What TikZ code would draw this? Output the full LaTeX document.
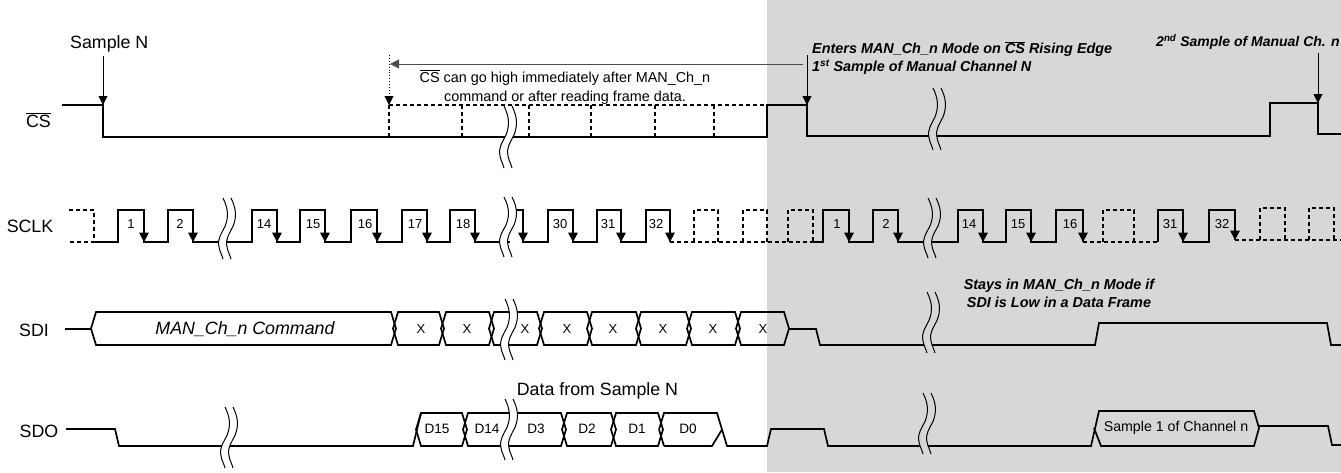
\documentclass[tikz,border=0pt]{standalone}
\usepackage{fontspec}
\setmainfont{Liberation Sans}
\usetikzlibrary{arrows.meta}
\definecolor{bggray}{HTML}{D7D7D7}
\tikzset{
  sig/.style={line width=1.7pt,line join=miter,black},
  dsig/.style={line width=1.5pt,black,dash pattern=on 4pt off 3pt},
  thinarrow/.style={line width=0.9pt,black,-{Triangle[width=9pt,length=9pt]}},
  lbl/.style={inner sep=0pt,font=\fontsize{17.8}{20}\selectfont},
  num/.style={inner sep=0pt,font=\fontsize{13}{15}\selectfont},
  small/.style={inner sep=0pt,font=\fontsize{13.6}{15}\selectfont},
  sampletext/.style={inner sep=0pt,font=\fontsize{14.2}{15}\selectfont},
  note/.style={inner sep=0pt,align=center,font=\fontsize{14.4}{19}\selectfont},
  bnote/.style={inner sep=0pt,font=\fontsize{14.4}{18}\selectfont\bfseries\itshape},
}
\newcommand{\wavybreak}[4]{%
  \pgfmathsetmacro{\bscale}{(#4-#3)/60}
  \begin{scope}[shift={(#2,#3)},yscale=\bscale]
    \fill[#1] (0,0) .. controls (5,10) and (6,18) .. (2,28) .. controls (-1,34) and (-6,40) .. (-4,48) .. controls (-3.5,52) and (-1,56) .. (0,60)
      -- (8,60) .. controls (7,56) and (4.5,52) .. (4,48) .. controls (2,40) and (7,34) .. (10,28) .. controls (14,18) and (13,10) .. (8,0) -- cycle;
    \draw[line width=1pt] (0,0) .. controls (5,10) and (6,18) .. (2,28) .. controls (-1,34) and (-6,40) .. (-4,48) .. controls (-3.5,52) and (-1,56) .. (0,60);
    \draw[line width=1pt] (8,0) .. controls (13,10) and (14,18) .. (10,28) .. controls (7,34) and (2,40) .. (4,48) .. controls (4.5,52) and (7,56) .. (8,60);
  \end{scope}}
\newcommand{\hexbox}[4]{%
  \draw[sig] ({#1-5},{(#3+#4)/2}) -- (#1,#3) -- (#2,#3) -- ({#2+5},{(#3+#4)/2}) -- (#2,#4) -- (#1,#4) -- cycle;}
\newcommand{\ovl}[1]{$\overline{\mbox{#1}}$}
\begin{document}
\begin{tikzpicture}[x=1pt,y=-1pt]
\clip (0,0) rectangle (1341,472);
\fill[bggray] (767,0) rectangle (1341,472);

% CS
\draw[dsig] (389,105) -- (775,105);
\foreach \x in {389,462,529,591,655,714} \draw[dsig] (\x,105) -- (\x,137);
\draw[sig] (62,105) -- (103,105) -- (103,137) -- (767,137) -- (767,105) -- (807,105) -- (807,136) -- (1270,136) -- (1270,103) -- (1318,103) -- (1318,134) -- (1341,134);

% SCLK
\draw[dsig] (69,210) -- (94,210) -- (94,242) -- (69,242);
\draw[sig] (94,242) -- (118,242) -- (118,210) -- (144,210) -- (144,242) -- (168,242) -- (168,210) -- (193,210) -- (193,242) -- (252,242) -- (252,210) -- (277,210) -- (277,242) -- (300,242) -- (300,210) -- (325,210) -- (325,242) -- (351,242) -- (351,210) -- (377,210) -- (377,242) -- (402,242) -- (402,210) -- (427,210) -- (427,242) -- (450,242) -- (450,210) -- (475,210) -- (475,242) -- (510,242);
\draw[sig] (510,210) -- (523,210) -- (523,242) -- (548,242) -- (548,210) -- (573,210) -- (573,242) -- (597,242) -- (597,210) -- (621,210) -- (621,242) -- (646,242) -- (646,210) -- (670,210) -- (670,242);
\draw[dsig] (670,242) -- (813,242);
\draw[dsig] (694,242) -- (694,210) -- (718,210) -- (718,242);
\draw[dsig] (743,242) -- (743,210) -- (767,210) -- (767,242);
\draw[dsig] (788,242) -- (788,210) -- (813,210) -- (813,242);
\draw[sig] (813,242) -- (823,242) -- (823,210) -- (849,210) -- (849,242) -- (873,242) -- (873,210) -- (898,210) -- (898,242) -- (958,242) -- (958,210) -- (983,210) -- (983,242) -- (1006,242) -- (1006,210) -- (1031,210) -- (1031,242) -- (1056,242) -- (1056,210) -- (1083,210) -- (1083,242);
\draw[dsig] (1083,242) -- (1158,242);
\draw[dsig] (1103,242) -- (1103,210) -- (1134,210) -- (1134,242);
\draw[sig] (1158,242) -- (1158,210) -- (1183,210) -- (1183,242) -- (1209,242) -- (1209,210) -- (1235,210) -- (1235,240);
\draw[dsig] (1235,240) -- (1341,240);
\draw[dsig] (1260,240) -- (1260,208) -- (1285,208) -- (1285,240);
\draw[dsig] (1309,240) -- (1309,208) -- (1334,208) -- (1334,240);
\foreach \x in {144,193,277,325,377,427,475,523,573,621,670,849,898,983,1031,1083,1183}
  \fill (\x,242) -- ({\x-5},232.5) -- ({\x+5},232.5) -- cycle;
\fill (1235,240) -- (1230,230.5) -- (1240,230.5) -- cycle;

% SDI
\draw[sig] (65,329) -- (91,329);
\hexbox{96}{391}{312}{345}
\hexbox{398}{439}{312}{345}
\hexbox{446}{489}{312}{345}
\hexbox{494}{537}{312}{345}
\hexbox{544}{587}{312}{345}
\hexbox{592}{636}{312}{345}
\hexbox{641}{686}{312}{345}
\hexbox{692}{735}{312}{345}
\hexbox{741}{784}{312}{345}
\draw[sig] (789,329) -- (816,329) -- (820,345) -- (1095,345) -- (1099,323) -- (1327,323) -- (1331,345) -- (1341,345);

% SDO
\draw[sig] (66,429) -- (115,429) -- (119,446) -- (413,446) -- (421,413);
\hexbox{421}{462}{413}{446}
\hexbox{468}{561}{413}{446}
\hexbox{567}{611}{413}{446}
\hexbox{616}{658}{413}{446}
\draw[sig] (659,429.5) -- (664,413) -- (717,413) -- (727,446) -- (767,446) -- (771,429) -- (824,429) -- (828,446) -- (1091,446) -- (1099,411) -- (1254,411) -- (1259,428) -- (1254,446) -- (1101,446) -- (1094,428);
\draw[sig] (664,446) -- (659,429.5);
\draw[sig] (664,446) -- (712,446) -- (722,429.5);
\draw[sig] (1259,426) -- (1328,426) -- (1332,445) -- (1341,445);

% breaks
\wavybreak{white}{223}{198}{259}
\wavybreak{white}{504}{106}{168}
\wavybreak{white}{504}{197}{257}
\wavybreak{white}{505}{299}{360}
\wavybreak{white}{225}{407}{468}
\wavybreak{white}{505}{399}{460}
\wavybreak{bggray}{933}{88}{150}
\wavybreak{bggray}{928}{198}{258}
\wavybreak{bggray}{927}{292}{353}
\wavybreak{bggray}{923}{393}{454}

% arrows
\coordinate (sna) at (103,56);
\coordinate (snb) at (103,105);
\coordinate (ena) at (807,55);
\coordinate (enb) at (807,105);
\coordinate (sca) at (1318,53);
\coordinate (scb) at (1318,103);
\coordinate (dga) at (389,55);
\coordinate (dgb) at (389,105);
\coordinate (hra) at (803,64);
\coordinate (hrb) at (390,64);
\draw[thinarrow] (sna) -- (snb);
\draw[thinarrow] (ena) -- (enb);
\draw[thinarrow] (sca) -- (scb);
\draw[thinarrow,dotted] (dga) -- (dgb);
\draw[thinarrow,draw=black!70,fill=black] (hra) -- (hrb);

% labels
\node[lbl,anchor=west] (tsn) at (70,43.5) {Sample N};
\node[lbl] (tcs) at (38.5,120) {\ovl{CS}};
\node[lbl] (tsclk) at (30,226) {SCLK};
\node[lbl] (tsdi) at (34,330) {SDI};
\node[lbl] (tsdo) at (39,431) {SDO};
\node[lbl] (tdata) at (597.5,391) {Data from Sample N};
\node[lbl,font=\fontsize{17.8}{20}\selectfont\itshape] (tman) at (245,329) {MAN\_Ch\_n Command};
\node[note] (tnote) at (565,87) {\ovl{CS} can go high immediately after MAN\_Ch\_n\\command or after reading frame data.};
\node[bnote,anchor=west] (ten) at (812,49) {Enters MAN\_Ch\_n Mode on \ovl{CS} Rising Edge};
\node[bnote,anchor=west] (tfi) at (812,67) {1\textsuperscript{st} Sample of Manual Channel N};
\node[bnote,anchor=west,font=\fontsize{14}{18}\selectfont\bfseries\itshape] (tse) at (1156,42) {2\textsuperscript{nd} Sample of Manual Ch. n};
\node[bnote,align=center] (tst) at (1059,293) {Stays in MAN\_Ch\_n Mode if\\SDI is Low in a Data Frame};

\foreach \x/\t [count=\i] in {131/1,180/2,264/14,313/15,365/16,415/17,463/18,560/30,608/31,656/32,837/1,886/2,969/14,1018/15,1070/16,1170/31,1222/32}
  \node[num] (ck\i) at (\x,224) {\t};
\foreach \x [count=\i] in {421,467,525,567,613,663,713,763}
  \node[num] (xb\i) at (\x,329) {X};
\foreach \x/\t [count=\i] in {437/D15,487/D14,536/D3,587/D2,637/D1,688/D0}
  \node[small] (db\i) at (\x,429) {\t};
\node[sampletext] (ts1) at (1176,428) {Sample 1 of Channel n};
\end{tikzpicture}
\end{document}
